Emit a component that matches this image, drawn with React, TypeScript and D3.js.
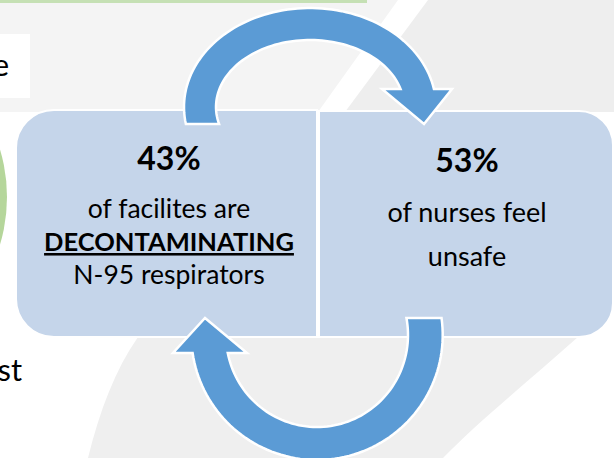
import React from "react";
import * as d3 from "d3";

const W = 614;
const H = 458;

// content
const percents = ["43%", "53%"];
const leftLines = ["of facilites are", "DECONTAMINATING", "N-95 respirators"];
const leftBold = [false, true, false];
const rightLines = ["of nurses feel", "unsafe"];
const sideFragments = ["e", "st"];

const FONT = "Lato, 'Open Sans', sans-serif";
const BOX_FILL = "#c5d5ea";
const ARROW_FILL = "#5b9bd5";

type Pt = [number, number];

function ellipsePts(cx: number, cy: number, rx: number, ry: number, a0: number, a1: number, n = 80): Pt[] {
  return d3.range(n + 1).map((i) => {
    const a = a0 + ((a1 - a0) * i) / n;
    return [cx + rx * Math.cos(a), cy + ry * Math.sin(a)] as Pt;
  });
}

const line = d3.line<Pt>().x((d) => d[0]).y((d) => d[1]);

function topArrow(): string {
  const cx = 310, cy = 107;
  const o = { rx: 126, ry: 99 }, inn = { rx: 94, ry: 67 };
  const yStart = 124, yEnd = 89;
  const oa0 = Math.PI - Math.asin((yStart - cy) / o.ry);
  const oa1 = 2 * Math.PI + Math.asin((yEnd - cy) / o.ry);
  const ia0 = Math.PI - Math.asin((yStart - cy) / inn.ry);
  const ia1 = 2 * Math.PI + Math.asin((yEnd - cy) / inn.ry);
  const outer = ellipsePts(cx, cy, o.rx, o.ry, oa0, oa1);
  const inner = ellipsePts(cx, cy, inn.rx, inn.ry, ia0, ia1).reverse();
  const head: Pt[] = [[452, yEnd], [424, 124], [382, yEnd]];
  return line([...outer, ...head, ...inner])! + "Z";
}

function bottomArrow(): string {
  const cx = 317, cy = 335;
  const o = { rx: 125.7, ry: 125 }, inn = { rx: 91, ry: 92 };
  const yStart = 318, yEnd = 353;
  const oa0 = Math.asin((yStart - cy) / o.ry);
  const oa1 = Math.PI - Math.asin((yEnd - cy) / o.ry);
  const ia0 = Math.asin((yStart - cy) / inn.ry);
  const ia1 = Math.PI - Math.asin((yEnd - cy) / inn.ry);
  const outer = ellipsePts(cx, cy, o.rx, o.ry, oa0, oa1);
  const inner = ellipsePts(cx, cy, inn.rx, inn.ry, ia0, ia1).reverse();
  const head: Pt[] = [[173, yEnd], [205, 318], [247, yEnd]];
  return line([...outer, ...head, ...inner])! + "Z";
}

function boxPath(x0: number, y0: number, x1: number, y1: number, rl: number, rr: number): string {
  const p = d3.path();
  p.moveTo(x0 + rl, y0);
  p.lineTo(x1 - rr, y0);
  if (rr) p.arcTo(x1, y0, x1, y0 + rr, rr);
  p.lineTo(x1, y1 - rr);
  if (rr) p.arcTo(x1, y1, x1 - rr, y1, rr);
  p.lineTo(x0 + rl, y1);
  if (rl) p.arcTo(x0, y1, x0, y1 - rl, rl);
  p.lineTo(x0, y0 + rl);
  if (rl) p.arcTo(x0, y0, x0 + rl, y0, rl);
  p.closePath();
  return p.toString();
}

export default function App() {
  const leftCx = 169;
  const rightCx = 467;
  const leftY = d3.scalePoint<number>().domain([0, 1, 2]).range([218, 284]);
  const rightY = d3.scalePoint<number>().domain([0, 1]).range([222, 266]);
  return (
    <svg width={W} height={H} viewBox={`0 0 ${W} ${H}`} style={{ position: "absolute", left: 0, top: 0 }}>
      {/* background */}
      <rect x={0} y={0} width={W} height={H} fill="#ffffff" />
      <polygon points="0,0 398,0 318,112 0,112" fill="#f4f4f4" />
      <polygon points="428,0 614,0 614,112 345,112" fill="#eeeeee" />
      <path d="M88,458 C100,410 115,370 138,337 L578,337 C530,380 480,420 443,458 Z" fill="#efefef" />
      {/* green bar */}
      <rect x={0} y={0} width={367} height={3} fill="#c5e0b4" />
      {/* green circle edge */}
      <circle cx={-158} cy={197} r={165} fill="#b5d69b" />
      {/* white text box with fragment */}
      <rect x={0} y={34} width={30} height={64} fill="#ffffff" />
      <text x={9} y={76} textAnchor="end" fontFamily={FONT} fontSize={31} fill="#000">{sideFragments[0]}</text>
      <text x={22} y={381} textAnchor="end" fontFamily={FONT} fontSize={31} fill="#000">{sideFragments[1]}</text>

      {/* boxes */}
      <path d={boxPath(16, 110, 317, 337, 38, 0)} fill={BOX_FILL} stroke="#fff" strokeWidth={2} />
      <path d={boxPath(319, 111, 613, 337, 0, 34)} fill={BOX_FILL} stroke="#fff" strokeWidth={2} />

      {/* arrows */}
      <path d={topArrow()} fill={ARROW_FILL} stroke="#fff" strokeWidth={2.5} strokeLinejoin="miter" />
      <path d={bottomArrow()} fill={ARROW_FILL} stroke="#fff" strokeWidth={2.5} strokeLinejoin="miter" />

      {/* left text */}
      <text x={leftCx} y={170} textAnchor="middle" fontFamily={FONT} fontWeight={700} fontSize={32} fill="#000">{percents[0]}</text>
      {leftLines.map((t, i) => (
        <text key={t} x={leftCx} y={leftY(i)} textAnchor="middle" fontFamily={FONT}
          fontWeight={leftBold[i] ? 700 : 400} fontSize={leftBold[i] ? 25.5 : 26.5} fill="#000"
          textDecoration={leftBold[i] ? "underline" : undefined}>{t}</text>
      ))}
      {/* right text */}
      <text x={rightCx} y={172} textAnchor="middle" fontFamily={FONT} fontWeight={700} fontSize={32} fill="#000">{percents[1]}</text>
      {rightLines.map((t, i) => (
        <text key={t} x={rightCx} y={rightY(i)} textAnchor="middle" fontFamily={FONT} fontSize={27} fill="#000">{t}</text>
      ))}
    </svg>
  );
}
